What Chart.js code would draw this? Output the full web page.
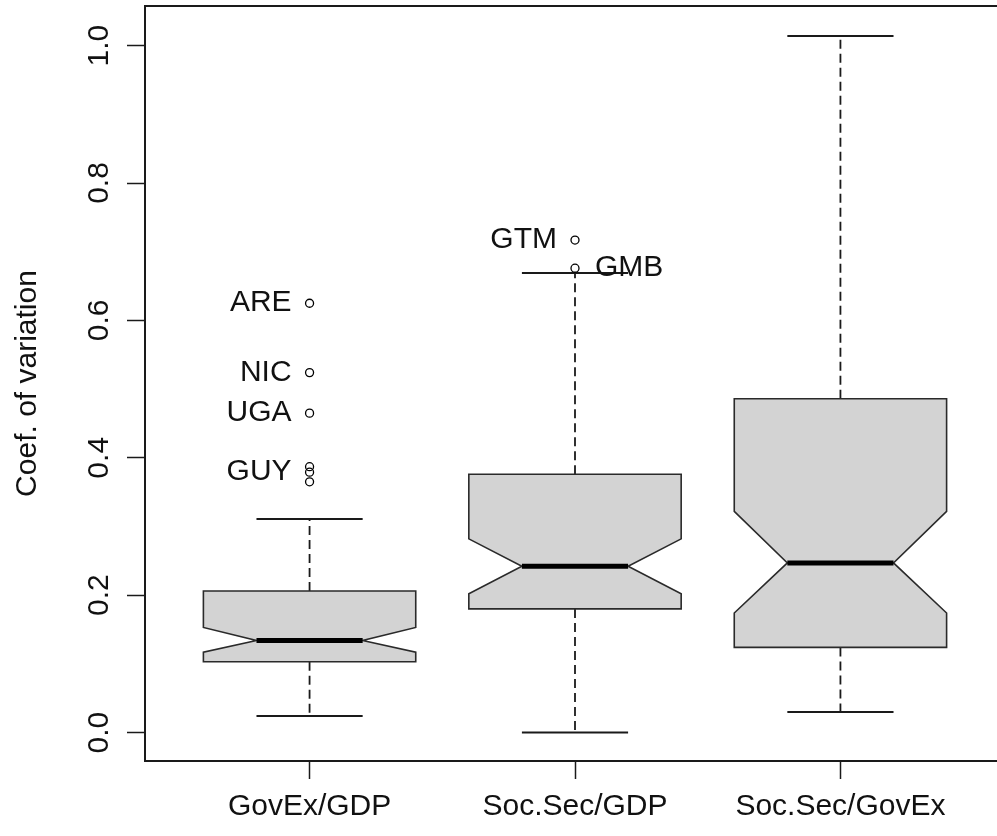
<!DOCTYPE html>
<html>
<head>
<meta charset="utf-8">
<title>Coef. of variation</title>
<script src="https://cdn.jsdelivr.net/npm/chart.js@4/dist/chart.umd.min.js"></script>
<style>
  html, body { margin: 0; padding: 0; background: #fff; overflow: hidden; }
  canvas { display: block; }
</style>
</head>
<body>
<canvas id="cv" width="1012" height="836"></canvas>
<script>
// Box statistics per ratio (five-number summary plus notch limits)
const categories   = ['GovEx/GDP', 'Soc.Sec/GDP', 'Soc.Sec/GovEx'];
const whiskerLow   = [0.024, 0.000, 0.030];
const lowerQuart   = [0.103, 0.180, 0.124];
const medians      = [0.134, 0.242, 0.247];
const upperQuart   = [0.206, 0.376, 0.486];
const whiskerHigh  = [0.311, 0.669, 1.014];
const notchLow     = [0.117, 0.202, 0.174];
const notchHigh    = [0.153, 0.282, 0.322];

// Outlying countries: group index, value, country code
const outlierGroup = [0, 0, 0, 0, 0, 0, 1, 1];
const outlierValue = [0.625, 0.524, 0.465, 0.387, 0.379, 0.365, 0.717, 0.676];
const outlierName  = ['ARE', 'NIC', 'UGA', '', 'GUY', '', 'GTM', 'GMB'];

const yTickValues = [0.0, 0.2, 0.4, 0.6, 0.8, 1.0];

const FONT = "'Liberation Sans', Arial, sans-serif";
const INK = '#1a1a1a';
const TEXT = '#111';

// Draws the notched boxes and whiskers on the chart's own scales
const boxPainter = {
  id: 'boxPainter',
  beforeDatasetsDraw(chart) {
    const { ctx, scales: { x, y } } = chart;
    const half = 0.4, inner = 0.2;
    ctx.save();
    categories.forEach((_, i) => {
      const c = i + 1;
      const px = v => x.getPixelForValue(v);
      const py = v => y.getPixelForValue(v);

      // whiskers (dashed) and staples
      ctx.strokeStyle = INK;
      ctx.lineWidth = 1.8;
      ctx.setLineDash([9, 5]);
      ctx.beginPath();
      ctx.moveTo(px(c), py(upperQuart[i]));
      ctx.lineTo(px(c), py(whiskerHigh[i]));
      ctx.moveTo(px(c), py(lowerQuart[i]));
      ctx.lineTo(px(c), py(whiskerLow[i]));
      ctx.stroke();
      ctx.setLineDash([]);
      ctx.lineWidth = 2;
      ctx.beginPath();
      ctx.moveTo(px(c - inner), py(whiskerHigh[i]));
      ctx.lineTo(px(c + inner), py(whiskerHigh[i]));
      ctx.moveTo(px(c - inner), py(whiskerLow[i]));
      ctx.lineTo(px(c + inner), py(whiskerLow[i]));
      ctx.stroke();

      // notched box
      ctx.beginPath();
      ctx.moveTo(px(c - half), py(upperQuart[i]));
      ctx.lineTo(px(c + half), py(upperQuart[i]));
      ctx.lineTo(px(c + half), py(notchHigh[i]));
      ctx.lineTo(px(c + inner), py(medians[i]));
      ctx.lineTo(px(c + half), py(notchLow[i]));
      ctx.lineTo(px(c + half), py(lowerQuart[i]));
      ctx.lineTo(px(c - half), py(lowerQuart[i]));
      ctx.lineTo(px(c - half), py(notchLow[i]));
      ctx.lineTo(px(c - inner), py(medians[i]));
      ctx.lineTo(px(c - half), py(notchHigh[i]));
      ctx.closePath();
      ctx.fillStyle = '#d3d3d3';
      ctx.fill();
      ctx.lineWidth = 1.6;
      ctx.strokeStyle = '#2a2a2a';
      ctx.stroke();

      // median bar
      ctx.lineWidth = 5;
      ctx.strokeStyle = '#000';
      ctx.beginPath();
      ctx.moveTo(px(c - inner), py(medians[i]));
      ctx.lineTo(px(c + inner), py(medians[i]));
      ctx.stroke();
    });
    ctx.restore();
  },
  afterDatasetsDraw(chart) {
    const { ctx, chartArea: a, scales: { x, y } } = chart;
    ctx.save();
    // plot frame
    ctx.strokeStyle = INK;
    ctx.lineWidth = 2;
    ctx.strokeRect(a.left, a.top, a.right - a.left, a.bottom - a.top);

    // country codes beside the outlying points
    ctx.fillStyle = TEXT;
    ctx.font = '30px ' + FONT;
    ctx.textBaseline = 'middle';
    outlierName.forEach((name, k) => {
      if (!name) return;
      const px = x.getPixelForValue(outlierGroup[k] + 1);
      const py = y.getPixelForValue(outlierValue[k]);
      if (name === 'GMB') {
        ctx.textAlign = 'left';
        ctx.fillText(name, px + 20, py);
      } else {
        ctx.textAlign = 'right';
        ctx.fillText(name, px - 18, py);
      }
    });
    ctx.restore();
  }
};

new Chart(document.getElementById('cv'), {
  type: 'scatter',
  data: {
    datasets: [{
      label: 'outliers',
      data: outlierValue.map((v, k) => ({ x: outlierGroup[k] + 1, y: v })),
      pointStyle: 'circle',
      pointRadius: 4,
      pointBorderWidth: 1.3,
      borderColor: '#000',
      backgroundColor: 'rgba(0,0,0,0)'
    }]
  },
  options: {
    responsive: false,
    animation: false,
    events: [],
    layout: { padding: { top: 6, right: 7, bottom: 0, left: 0 } },
    plugins: { legend: { display: false }, tooltip: { enabled: false } },
    scales: {
      x: {
        type: 'linear',
        min: 0.38,
        max: 3.62,
        afterBuildTicks: s => { s.ticks = categories.map((_, i) => ({ value: i + 1 })); },
        afterFit: s => { s.height = 75; s.paddingLeft = 0; s.paddingRight = 0; },
        grid: { drawOnChartArea: false, drawTicks: true, tickLength: 18, tickColor: INK, tickWidth: 1.5 },
        border: { display: false },
        ticks: {
          color: TEXT,
          font: { family: FONT, size: 30 },
          padding: 10,
          maxRotation: 0,
          autoSkip: false,
          callback: v => categories[v - 1]
        }
      },
      y: {
        type: 'linear',
        min: -0.0414,
        max: 1.0577,
        afterBuildTicks: s => { s.ticks = yTickValues.map(v => ({ value: v })); },
        afterFit: s => { s.width = 145; s.paddingTop = 0; s.paddingBottom = 0; },
        grid: { drawOnChartArea: false, drawTicks: true, tickLength: 18, tickColor: INK, tickWidth: 1.5 },
        border: { display: false },
        ticks: {
          color: TEXT,
          font: { family: FONT, size: 30 },
          padding: 6,
          minRotation: 90,
          maxRotation: 90,
          crossAlign: 'center',
          callback: v => v.toFixed(1)
        },
        title: {
          display: true,
          text: 'Coef. of variation',
          color: TEXT,
          font: { family: FONT, size: 30 },
          padding: { top: 10, bottom: 0 }
        }
      }
    }
  },
  plugins: [boxPainter]
});
</script>
</body>
</html>
